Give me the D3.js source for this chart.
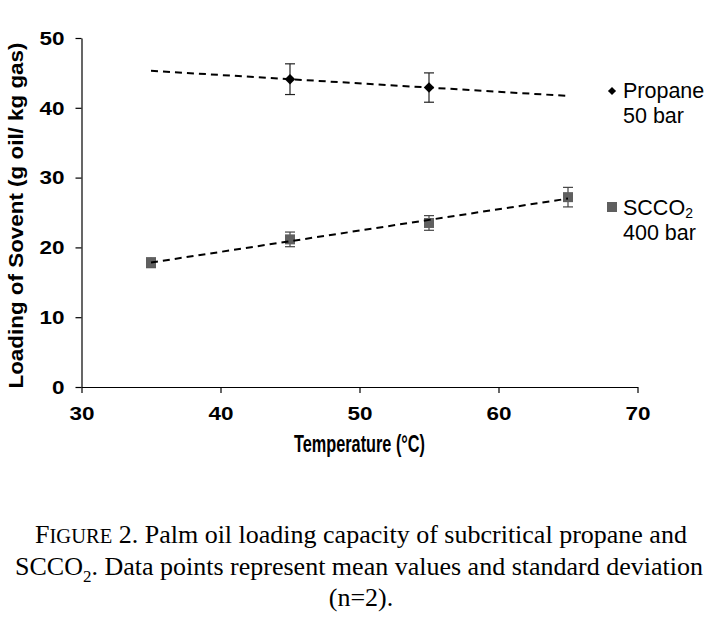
<!DOCTYPE html>
<html><head><meta charset="utf-8">
<script src="https://cdn.jsdelivr.net/npm/d3@7"></script>
<style>
body{margin:0;background:#fff;}
svg{display:block;}
</style></head>
<body>
<svg id="chart" width="723" height="620"></svg>
<script>
// ---- data ----
const propaneTemps = [45, 55];
const propaneMean = [44.1, 42.9];
const propaneSD = [2.2, 2.1];
const scco2Temps = [35, 45, 55, 65];
const scco2Mean = [17.8, 21.15, 23.5, 27.2];
const scco2SD = [0.7, 1.05, 1.05, 1.4];
const xTicks = [30, 40, 50, 60, 70];
const yTicks = [0, 10, 20, 30, 40, 50];
const trendRange = [35, 65];

const svg = d3.select("#chart");
const x = d3.scaleLinear().domain([30, 70]).range([81.5, 637.5]);
const y = d3.scaleLinear().domain([0, 50]).range([387, 38]);
const SANS = "Liberation Sans, Arial, sans-serif";

// axes
const xAxis = svg.append("g").attr("transform", `translate(0,${y(0)})`)
  .call(d3.axisBottom(x).tickValues(xTicks).tickSize(6).tickPadding(15).tickSizeOuter(0));
const yAxis = svg.append("g").attr("transform", `translate(${x(30)},0)`)
  .call(d3.axisLeft(y).tickValues(yTicks).tickSize(6).tickPadding(11).tickSizeOuter(0));
[xAxis, yAxis].forEach(g => {
  g.selectAll("path,line").attr("stroke", "#000").attr("stroke-width", 1.2);
  g.selectAll("text").attr("fill", "#000")
    .style("font-family", SANS)
    .style("font-size", "17.5px").style("font-weight", "bold")
    .attr("textLength", d => String(d).length * 12.5)
    .attr("lengthAdjust", "spacingAndGlyphs");
});
yAxis.selectAll("text").attr("dy", "0.36em");

// axis titles
svg.append("text").attr("x", (x(30)+x(70))/2).attr("y", 452)
  .attr("text-anchor", "middle")
  .style("font-family", SANS)
  .style("font-size", "23px").style("font-weight", "bold")
  .attr("textLength", 131).attr("lengthAdjust", "spacingAndGlyphs")
  .text("Temperature (°C)");
svg.append("text")
  .attr("transform", `translate(23,${(y(0)+y(50))/2 + 3}) rotate(-90)`)
  .attr("text-anchor", "middle")
  .style("font-family", SANS)
  .style("font-size", "21px").style("font-weight", "bold")
  .attr("textLength", 346).attr("lengthAdjust", "spacingAndGlyphs")
  .text("Loading of Sovent (g oil/ kg gas)");

// linear fit
function fit(xs, ys) {
  const mx = d3.mean(xs), my = d3.mean(ys);
  const b = d3.sum(xs.map((v, i) => (v - mx) * (ys[i] - my))) / d3.sum(xs.map(v => (v - mx) ** 2));
  return t => my + b * (t - mx);
}
const fp = fit(propaneTemps, propaneMean);
const fs = fit(scco2Temps, scco2Mean);
const line = d3.line().x(d => x(d[0])).y(d => y(d[1]));

// error bars
function errorBars(xs, ms, sds, color) {
  const g = svg.append("g").attr("stroke", color).attr("stroke-width", 1.2).attr("fill", "none");
  xs.forEach((t, i) => {
    const cx = x(t), top = y(ms[i] + sds[i]), bot = y(ms[i] - sds[i]);
    g.append("line").attr("x1", cx).attr("x2", cx).attr("y1", top).attr("y2", bot);
    g.append("line").attr("x1", cx - 5).attr("x2", cx + 5).attr("y1", top).attr("y2", top);
    g.append("line").attr("x1", cx - 5).attr("x2", cx + 5).attr("y1", bot).attr("y2", bot);
  });
}
errorBars(scco2Temps, scco2Mean, scco2SD, "#444");
errorBars(propaneTemps, propaneMean, propaneSD, "#222");

// markers
svg.append("g").selectAll("rect").data(scco2Temps).join("rect")
  .attr("x", d => x(d) - 5).attr("y", (d, i) => y(scco2Mean[i]) - 5)
  .attr("width", 10).attr("height", 10).attr("fill", "#5f5f5f");
const diamond = d3.symbol().type(d3.symbolDiamond2).size(70);
svg.append("g").selectAll("path").data(propaneTemps).join("path")
  .attr("transform", (d, i) => `translate(${x(d)},${y(propaneMean[i])})`)
  .attr("d", diamond).attr("fill", "#000");

// trend lines
[fp, fs].forEach(f => {
  svg.append("path").datum(trendRange.map(t => [t, f(t)]))
    .attr("d", line).attr("fill", "none").attr("stroke", "#000")
    .attr("stroke-width", 2).attr("stroke-dasharray", "7,5");
});

// legend
const lg = svg.append("g").style("font-family", SANS).style("font-size", "21.5px");
lg.append("path").attr("transform", "translate(612,91)")
  .attr("d", d3.symbol().type(d3.symbolDiamond2).size(42)).attr("fill", "#000");
lg.append("text").attr("x", 623).attr("y", 98).text("Propane");
lg.append("text").attr("x", 623).attr("y", 123).text("50 bar");
lg.append("rect").attr("x", 607).attr("y", 202).attr("width", 10).attr("height", 10).attr("fill", "#5f5f5f");
const t1 = lg.append("text").attr("x", 623).attr("y", 215);
t1.append("tspan").text("SCCO");
t1.append("tspan").attr("dy", 3).style("font-size", "14px").text("2");
lg.append("text").attr("x", 623).attr("y", 240).text("400 bar");

// caption
const cap = svg.append("g").attr("text-anchor", "middle")
  .style("font-family", "Liberation Serif, Times New Roman, serif").style("font-size", "26px").attr("fill", "#000");
const l1 = cap.append("text").attr("x", 361).attr("y", 543);
l1.append("tspan").text("F");
l1.append("tspan").style("font-size", "20.5px").text("IGURE");
l1.append("tspan").text(" 2. Palm oil loading capacity of subcritical propane and");
const l2 = cap.append("text").attr("x", 359).attr("y", 575);
l2.append("tspan").text("SCCO");
l2.append("tspan").attr("dy", 7).style("font-size", "17px").text("2");
l2.append("tspan").attr("dy", -7).text(". Data points represent mean values and standard deviation");
cap.append("text").attr("x", 361).attr("y", 606).text("(n=2).");
</script>
</body></html>
